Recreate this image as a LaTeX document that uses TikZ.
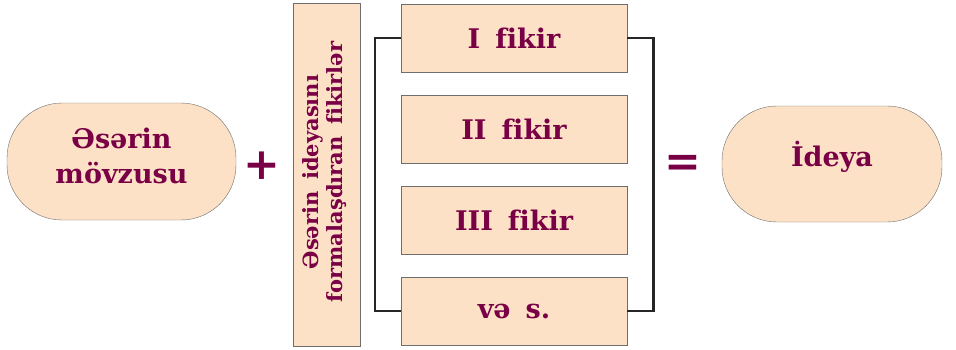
\documentclass[tikz,border=0pt]{standalone}
\usepackage{fontspec}
\setmainfont{DejaVu Serif}[WordSpace=1.6,Ligatures=NoCommon]
\definecolor{peach}{HTML}{FDE1C6}
\definecolor{wine}{HTML}{7A0046}
\definecolor{edge}{HTML}{6E6E6E}
\tikzset{
  pill/.style={draw=edge,fill=peach,rounded corners=55pt,inner sep=0pt,
    minimum width=229pt,minimum height=117pt},
  fikirbox/.style={draw=edge,fill=peach,inner sep=0pt,
    minimum width=226pt,minimum height=68pt},
  label/.style={text=wine,font=\bfseries\fontsize{27}{35}\selectfont,align=center},
  sign/.style={text=wine,font=\bfseries\fontsize{44}{44}\selectfont,inner sep=0pt},
  bracket/.style={draw=black!85,line width=2.6pt}
}
\begin{document}
\begin{tikzpicture}[x=1pt,y=-1pt]
  \useasboundingbox (0,0) rectangle (956,349);

  \node (movzu) [pill] at (121.5,161.5) {};
  \node [label] at (121.5,156) {Əsərin\\mövzusu};

  \node (plus) [sign] at (262,166) {+};

  \node (fikirler) [draw=edge,fill=peach,inner sep=0pt,rotate=90,
    minimum width=343pt,minimum height=67pt] at (326.5,174.5) {};
  \node [label,rotate=90,font=\bfseries\fontsize{21}{24}\selectfont]
    at (325,172) {Əsərin ideyasını\\formalaşdıran fikirlər};

  \node (f1) [fikirbox] at (514,38)  {};
  \node (f2) [fikirbox] at (514,129) {};
  \node (f3) [fikirbox] at (514,220) {};
  \node (f4) [fikirbox] at (514,311) {};
  \foreach \n/\t in {f1/I fikir,f2/II fikir,f3/III fikir,f4/və s.}
    \node [label] at (\n) {\t};

  % bracket round the ideas
  \draw[bracket] (f1.west) -- ++(-26,0) |- (f4.west);
  \draw[bracket] (f1.east) -- ++(26,0) |- (f4.east);

  \node (equal) [sign] at (683,166) {=};

  \node (ideya) [pill,minimum width=220pt,minimum height=116pt] at (832,164) {};
  \node [label] at (832,157) {İdeya};
\end{tikzpicture}
\end{document}
